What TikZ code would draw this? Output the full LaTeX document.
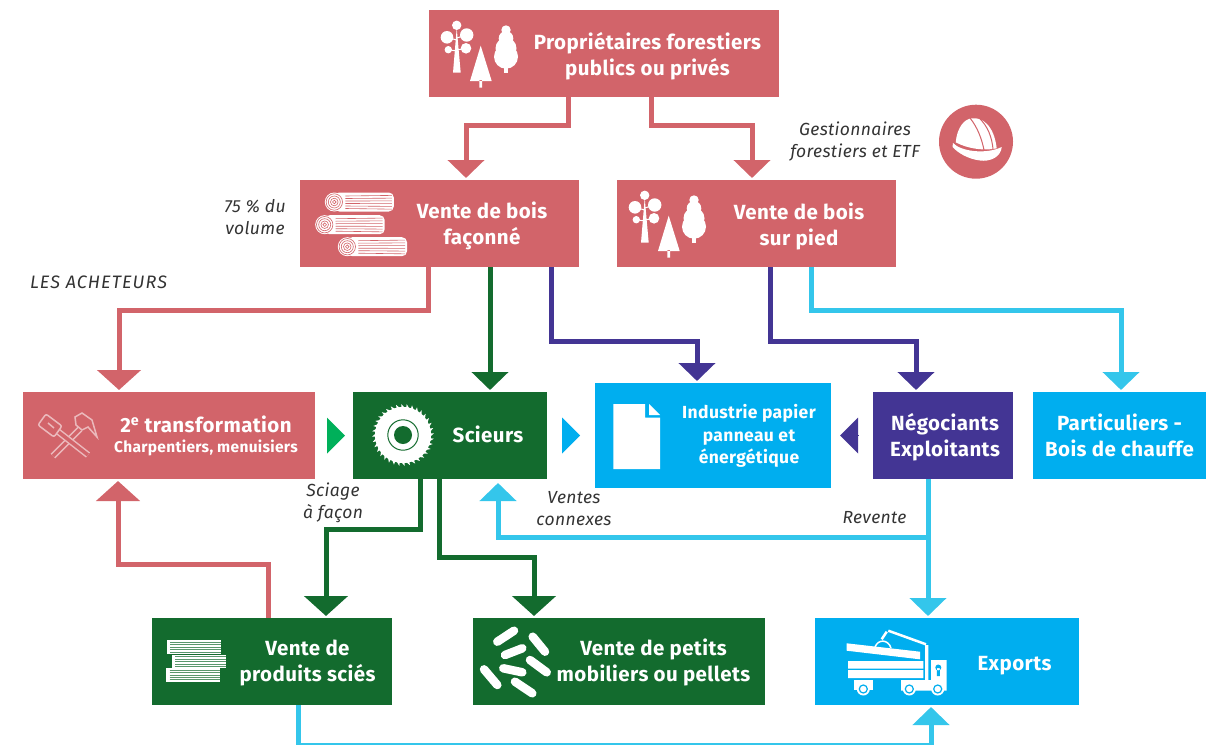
\documentclass[tikz,border=0pt]{standalone}
\usepackage{fontspec}
\setmainfont{Fira Sans}
\newfontfamily\spaced[LetterSpace=2]{Fira Sans}
\newfontfamily\widecaps[LetterSpace=6]{Fira Sans}
\usetikzlibrary{arrows.meta,positioning,calc}
\definecolor{rosec}{HTML}{D2646A}
\definecolor{greenc}{HTML}{136B2E}
\definecolor{navyc}{HTML}{433594}
\definecolor{bluec}{HTML}{00AEEF}
\definecolor{cyanc}{HTML}{34C6EB}
\definecolor{brightc}{HTML}{00B05A}
\definecolor{notec}{HTML}{333333}

\tikzset{
  trees/.pic={
    \fill[white] (16.7,5.3) circle (4.7) (7,17.3) circle (6.3) (26.7,15) circle (6.7)
      (8.3,29.7) circle (3.7) (26,28.3) circle (5.3);
    \fill[white] (16.7,8) -- (20.7,52.7) -- (13,52.7) -- cycle;
    \draw[white, line width=1pt] (7,17.3) -- (16.7,20) (26.7,15) -- (16.7,18) (8.3,29.7) -- (16.7,31) (26,28.3) -- (16.7,30);
    \fill[white] (40.7,25.7) -- (51.7,61) -- (30,61) -- cycle (39.3,60) rectangle (42,67.7);
    \fill[white] (66,10) circle (4.7) (66,18.3) circle (7.3) (66,28.3) circle (10.5) (66,36.7) circle (12);
    \fill[white] (63.5,45) rectangle (68.3,52.7);
  }
}
\begin{document}
\begin{tikzpicture}[x=1pt, y=-1pt, node distance=38pt,
    ebox/.style={rectangle, inner sep=0pt, outer sep=0pt, minimum height=87pt},
    etext/.style={text=white, align=center, font=\spaced\bfseries\fontsize{20.5}{26}\selectfont},
    note/.style={text=notec, align=center, font=\spaced\itshape\fontsize{17.5}{22}\selectfont},
    flow/.style={line width=5pt, -{Triangle[length=18pt,width=36pt]}, shorten >=2pt},
    bigflow/.style={line width=5pt, -{Triangle[length=20pt,width=43pt]}, shorten >=2pt},
    gap/.style={line width=0pt, -{Triangle[length=18pt,width=36pt]}},
    toolline/.style={white!55!rosec, line width=1.5pt}]
    \useasboundingbox (0,0) rectangle (1217,744);

    % boxes
    \node[ebox, fill=rosec, minimum width=350pt] (proprio) at (604,53.5) {};
    \node[ebox, fill=rosec, minimum width=279pt] (faconne) at (439.5,223.5) {};
    \node[ebox, fill=rosec, minimum width=279pt, right=of faconne] (pied) {};
    \node[ebox, fill=rosec, minimum width=292pt] (transfo) at (169,435.5) {};
    \node[ebox, fill=greenc, minimum width=194pt, right=of transfo] (scieurs) {};
    \node[ebox, fill=bluec, minimum width=236pt, minimum height=105pt, right=48pt of scieurs] (industrie) {};
    \node[ebox, fill=navyc, minimum width=140pt, right=42pt of industrie] (negociants) {};
    \node[ebox, fill=bluec, minimum width=173pt, right=20pt of negociants] (particuliers) {};
    \node[ebox, fill=greenc, minimum width=240pt] (produits) at (272,661.5) {};
    \node[ebox, fill=greenc, minimum width=292pt, right=81pt of produits] (petits) {};
    \node[ebox, fill=bluec, minimum width=264pt, right=50pt of petits] (exports) {};

    % box texts
    \node[etext] (tproprio) at ([xshift=43.5pt, yshift=-2.5pt]proprio.center) {Propriétaires forestiers\\publics ou privés};
    \node[etext] (tfaconne) at ([xshift=42.5pt, yshift=-2.5pt]faconne.center) {Vente de bois\\façonné};
    \node[etext] (tpied) at ([xshift=42.5pt, yshift=-2.5pt]pied.center) {Vente de bois\\sur pied};
    \node[etext, font=\spaced\bfseries\fontsize{20.5}{21}\selectfont] (ttransfo) at ([xshift=37pt, yshift=-.5pt]transfo.center) {2\textsuperscript{e} transformation\\[-1pt]{\fontsize{15.5}{16}\selectfont Charpentiers, menuisiers}};
    \node[etext] (tscieurs) at ([xshift=38pt, yshift=1pt]scieurs.center) {Scieurs};
    \node[etext, font=\spaced\bfseries\fontsize{17.5}{22.5}\selectfont] (tindustrie) at ([xshift=36pt, yshift=-.5pt]industrie.center) {Industrie papier\\panneau et\\énergétique};
    \node[etext] (tnegociants) at ([xshift=2pt, yshift=-2pt]negociants.center) {Négociants\\Exploitants};
    \node[etext] (tparticuliers) at (particuliers.center) {Particuliers -\\Bois de chauffe};
    \node[etext] (tproduits) at ([xshift=35.5pt, yshift=-1.5pt]produits.center) {Vente de\\produits sciés};
    \node[etext] (tpetits) at ([xshift=34.5pt, yshift=-1pt]petits.center) {Vente de petits\\mobiliers ou pellets};
    \node[etext] (texports) at ([xshift=67.5pt, yshift=-4pt]exports.center) {Exports};

    % notes
    \node[note] (gestion) at (855,142) {Gestionnaires\\forestiers et ETF};
    \node[note] (volume) at (255,217) {75 \% du\\volume};
    \node[note, font=\widecaps\itshape\fontsize{18}{22}\selectfont] (acheteurs) at (98.5,282) {LES ACHETEURS};
    \node[note] (facon) at (333,502.5) {Sciage\\à façon};
    \node[note] (connexes) at (574,509) {Ventes\\connexes};
    \node[note] (revtext) at (874.5,518) {Revente};

    % connectors
    \draw[flow, rosec] ([xshift=-36pt]proprio.south) -- ++(0,28) -| ([xshift=26.5pt]faconne.north);
    \draw[flow, rosec] ([xshift=47pt]proprio.south) -- ++(0,28) -| ([xshift=-4.5pt]pied.north);
    \draw[bigflow, rosec] ([xshift=-11.5pt]faconne.south) -- ++(0,43) -| ([xshift=-50pt]transfo.north);
    \draw[flow, greenc] ([xshift=50.5pt]faconne.south) -- ([xshift=40pt]scieurs.north);
    \draw[flow, navyc] ([xshift=111.5pt]faconne.south) -- ++(0,74) -| ([xshift=-16pt]industrie.north);
    \draw[flow, navyc] ([xshift=13.5pt]pied.south) -- ++(0,74) -| ([xshift=-27pt]negociants.north);
    \draw[flow, cyanc] ([xshift=54.5pt]pied.south) -- ++(0,43) -| ([xshift=1.5pt]particuliers.north);
    \draw[bigflow, greenc] ([xshift=-30pt]scieurs.south) -- ++(0,50) -| ([xshift=54pt]produits.north);
    \draw[bigflow, greenc] ([xshift=-11pt]scieurs.south) -- ++(0,78) -| ([xshift=-85pt]petits.north);
    \draw[bigflow, rosec] ([xshift=-4pt]produits.north) -- ++(0,-54) -| ([xshift=-51pt]transfo.south);
    \draw[flow, cyanc] ([xshift=-15pt]negociants.south) -- ([xshift=-19pt]exports.north);
    \coordinate (revente) at (928,537);
    \draw[flow, cyanc, shorten >=4pt] (revente) -| ([xshift=48pt]scieurs.south);
    \draw[flow, cyanc] ([xshift=26pt]produits.south) -- ++(0,40.5) -| ([xshift=-16pt]exports.south);
    \draw[gap, brightc] ([xshift=12pt]transfo.east) -- ([xshift=-8pt]scieurs.west);
    \draw[gap, bluec] ([xshift=15pt]scieurs.east) -- ([xshift=-15pt]industrie.west);
    \draw[gap, navyc] ([xshift=-15pt]negociants.west) -- ([xshift=9pt]industrie.east);

    % icons
    \pic at (440,20) {trees};
    \pic at (628,190) {trees};

    % hard hat
    \fill[rosec] (976,141.7) circle (37);
    \fill[white] (955.7,142.3) .. controls (957,128) and (964,119) .. (971.7,118.3)
      .. controls (982,117) and (994,125) .. (996.7,148.3) .. controls (985,151) and (968,149) .. cycle;
    \fill[white] (953,143) .. controls (960,151) and (985,155) .. (1001.7,147)
      .. controls (1001,157) and (990,162) .. (980,160.5) .. controls (968,159) and (958,153) .. (952.5,147) -- cycle;
    \draw[rosec, line width=1pt] (970,118) .. controls (978,128) and (982,140) .. (984,150)
      (979,118) .. controls (988,126) and (992,138) .. (993,149);

    % logs
    \foreach \x/\y/\l in {334.3/202/59.5, 324.7/224.7/60, 347.3/246.7/59.7} {
      \fill[white, rounded corners=5pt] (\x,\y-9.5) rectangle (\x+\l,\y+9.5);
      \foreach \d in {-6,-3.5,-1,1.5,4,6.5}
        \draw[rosec, line width=.6pt] (\x+11,\y+\d) -- (\x+\l-2,\y+\d*1.1);
      \fill[white] (\x,\y) circle (9.5);
      \draw[rosec, line width=.6pt] (\x,\y) circle (8.2) (\x,\y) circle (6) (\x,\y) circle (3.8) (\x,\y) circle (1.8);
    }

    % tools
    \draw[toolline, double=rosec, double distance=3.5pt] (80,429) -- (53,456);
    \draw[toolline, double=rosec, double distance=3.5pt] (56,430) -- (88,455);
    \draw[toolline, fill=rosec] (75,417) -- (82,413) -- (92,420) -- (97,437) -- (88,427) -- (82,430) -- (76,425) -- cycle;
    \draw[toolline, fill=rosec, rounded corners=2pt] (46,414) -- (62,426) -- (54,437) -- (38,425) -- cycle;
    \draw[toolline] (48,423) -- (54,428);

    % saw
    \foreach \a in {0,10,...,350}
      \fill[white] ([shift={(\a-3.5:27)}]403,435) -- ++(\a:4) -- ([shift={(\a+4:27)}]403,435) -- cycle;
    \fill[white] (403,435) circle (28);
    \draw[greenc, line width=1pt] (403,435) circle (15.2);
    \fill[greenc] (403,435) circle (9);

    % page
    \fill[white] (613.3,404) -- (645,404) -- (645,417.7) -- (660,417.7) -- (660,469) -- (613.3,469) -- cycle;
    \fill[white] (649,404) -- (660,415) -- (649,415) -- cycle;

    % lumber
    \foreach \x/\y/\w/\h in {166.7/640.3/54.3/13.5, 171.7/654.5/54.3/13.2, 166/668/54/14} {
      \fill[white] (\x,\y) rectangle (\x+\w,\y+\h);
      \foreach \d in {2,4.5,7,9.5,11.8}
        \draw[greenc!70!white, line width=.9pt] (\x+3.5,\y+\d) -- (\x+\w,\y+\d);
    }

    % pellets
    \draw[white, line width=8.5pt, line cap=round] (497.3,641.7) -- (514,630.7) (505,655) -- (522.3,648.3)
      (532.7,636.7) -- (545,651.7) (530,660) -- (546.7,672.3) (503.3,668.3) -- (522.3,672.3)
      (484,669.3) -- (497.3,685) (515,681.7) -- (532.3,693.3);

    % truck
    \fill[white] (846.7,643.3) -- (920,651.7) -- (920,659.3) -- (846.7,650.7) -- cycle;
    \fill[white] (848,661) rectangle (923.3,668.7) (848,670) rectangle (923.3,678);
    \fill[white] (854,680) rectangle (873.3,690);
    \fill[white] (901,680) rectangle (946.7,690.7) (931,660) rectangle (946.7,680) (925,645) rectangle (928.3,680);
    \draw[white, line width=2.5pt] (888.3,630.7) -- (926,644.3) (886.7,631.7) -- (881.7,639.3);
    \draw[white, line width=1.5pt] (875,647) .. controls (878,639) and (888,639) .. (891,648);
    \fill[bluec] (938.3,667.5) circle (3) (936.8,668) rectangle (939.8,676);
    \foreach \x in {863.3,909.3,937.7} {
      \fill[white] (\x,689) circle (6.5);
      \draw[bluec, line width=1.2pt] (\x,689) circle (4);
    }
\end{tikzpicture}
\end{document}
